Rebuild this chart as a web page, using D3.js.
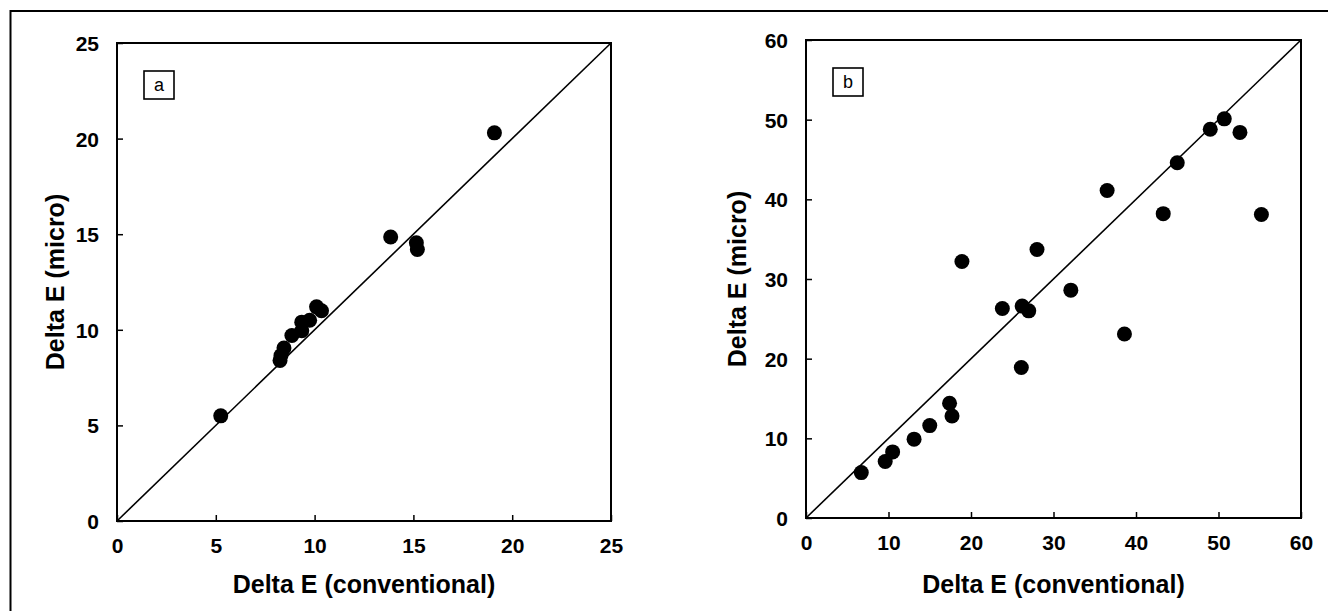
<!DOCTYPE html>
<html>
<head>
<meta charset="utf-8">
<script src="https://cdn.jsdelivr.net/npm/d3@7"></script>
<style>
  body { margin: 0; background: #fff; }
  text { font-family: "Liberation Sans", Arial, sans-serif; }
</style>
</head>
<body>
<div id="chart"></div>
<script>
// data
var aConventional = [5.25, 8.25, 8.3, 8.45, 8.85, 9.35, 9.35, 9.75, 10.1, 10.35, 13.85, 15.15, 15.2, 19.1];
var aMicro = [5.5, 8.4, 8.65, 9.05, 9.7, 9.95, 10.4, 10.5, 11.2, 11.0, 14.85, 14.55, 14.2, 20.3];

var bConventional = [6.7, 9.6, 10.5, 13.1, 15.0, 17.4, 17.7, 18.9, 23.8, 26.2, 27.0, 26.1, 28.0, 32.1, 36.5, 38.6, 43.3, 45.0, 49.0, 50.7, 52.6, 55.2];
var bMicro = [5.7, 7.1, 8.3, 9.9, 11.6, 14.4, 12.8, 32.2, 26.3, 26.6, 26.0, 18.9, 33.7, 28.6, 41.1, 23.1, 38.2, 44.6, 48.8, 50.1, 48.4, 38.1];

var aTicks = [0, 5, 10, 15, 20, 25];
var bTicks = [0, 10, 20, 30, 40, 50, 60];

var svgWidth = 1328;
var svgHeight = 611;

var svg = d3.select("#chart")
    .append("svg")
    .attr("width", svgWidth)
    .attr("height", svgHeight);

// outer frame (right and bottom run off the page)
svg.append("rect")
    .attr("x", 10.5)
    .attr("y", 11)
    .attr("width", 1400)
    .attr("height", 700)
    .attr("fill", "none")
    .attr("stroke", "#000")
    .attr("stroke-width", 2);

function drawPanel(opts) {
    var xScale = d3.scaleLinear().domain([0, opts.max]).range([opts.left, opts.right]);
    var yScale = d3.scaleLinear().domain([0, opts.max]).range([opts.bottom, opts.top]);
    var g = svg.append("g");

    // inward ticks
    var bottomAxis = d3.axisBottom(xScale).tickValues(opts.ticks).tickSize(-6).tickPadding(17).tickSizeOuter(0);
    var leftAxis = d3.axisLeft(yScale).tickValues(opts.ticks).tickSize(-6).tickPadding(18).tickSizeOuter(0);

    var xg = g.append("g")
        .attr("transform", `translate(0, ${opts.bottom})`)
        .call(bottomAxis);
    var yg = g.append("g")
        .attr("transform", `translate(${opts.left}, 0)`)
        .call(leftAxis);
    [xg, yg].forEach(ax => {
        ax.select(".domain").remove();
        ax.selectAll("line").attr("stroke", "#000").attr("stroke-width", 1.5);
        ax.selectAll("text")
            .attr("font-size", 21)
            .attr("font-weight", "bold")
            .attr("fill", "#000");
    });
    yg.selectAll("text").attr("dy", "0.36em");

    // plot frame
    g.append("rect")
        .attr("x", opts.left)
        .attr("y", opts.top)
        .attr("width", opts.right - opts.left)
        .attr("height", opts.bottom - opts.top)
        .attr("fill", "none")
        .attr("stroke", "#000")
        .attr("stroke-width", 2);

    // 1:1 line
    g.append("line")
        .attr("x1", xScale(0))
        .attr("y1", yScale(0))
        .attr("x2", xScale(opts.max))
        .attr("y2", yScale(opts.max))
        .attr("stroke", "#000")
        .attr("stroke-width", 1.6);

    g.selectAll("circle")
        .data(opts.xs)
        .enter()
        .append("circle")
        .attr("cx", d => xScale(d))
        .attr("cy", (d, i) => yScale(opts.ys[i]))
        .attr("r", 7.5)
        .attr("fill", "#000");

    // panel letter
    g.append("rect")
        .attr("x", opts.left + 27)
        .attr("y", opts.top + 28)
        .attr("width", 30)
        .attr("height", 28)
        .attr("fill", "#fff")
        .attr("stroke", "#000")
        .attr("stroke-width", 1.6);
    g.append("text")
        .text(opts.letter)
        .attr("x", opts.left + 42)
        .attr("y", opts.top + 42)
        .attr("dy", "0.35em")
        .attr("text-anchor", "middle")
        .attr("font-size", 18);

    // axis titles
    g.append("text")
        .text("Delta E (conventional)")
        .attr("x", (opts.left + opts.right) / 2)
        .attr("y", 584)
        .attr("dy", "0.35em")
        .attr("text-anchor", "middle")
        .attr("font-size", 25)
        .attr("font-weight", "bold");
    g.append("text")
        .text("Delta E (micro)")
        .attr("transform", `translate(${opts.titleX}, ${(opts.top + opts.bottom) / 2}) rotate(-90)`)
        .attr("dy", "0.35em")
        .attr("text-anchor", "middle")
        .attr("font-size", 25)
        .attr("font-weight", "bold");
}

drawPanel({
    left: 117, right: 611, top: 43, bottom: 521,
    max: 25, ticks: aTicks, xs: aConventional, ys: aMicro,
    letter: "a", titleX: 55
});

drawPanel({
    left: 806, right: 1301, top: 40, bottom: 518,
    max: 60, ticks: bTicks, xs: bConventional, ys: bMicro,
    letter: "b", titleX: 737
});
</script>
</body>
</html>
